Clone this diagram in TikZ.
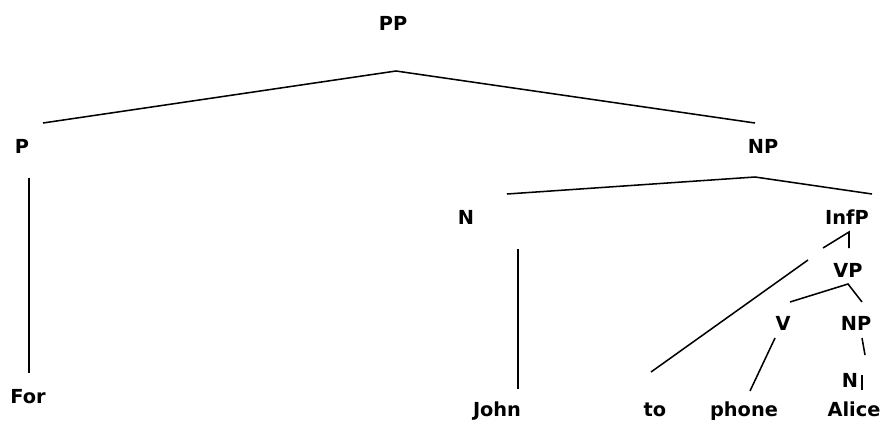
\documentclass[tikz,border=0pt]{standalone}
\usepackage{fontspec}
\setmainfont{DejaVu Sans}
\begin{document}
\begin{tikzpicture}[x=0.75pt,y=-0.75pt,
  lbl/.style={anchor=base,inner sep=0pt,font=\bfseries\fontsize{14.5}{16}\selectfont},
  branch/.style={line width=1.15pt,black}]
\useasboundingbox (0,0) rectangle (881,421);
% labels
\node[lbl] (PP) at (393,30) {PP};
\node[lbl] (P) at (22,153) {P};
\node[lbl] (NPa) at (763,153) {NP};
\node[lbl] (Na) at (466,224) {N};
\node[lbl] (InfP) at (847,224) {InfP};
\node[lbl] (VP) at (848,277) {VP};
\node[lbl] (V) at (783,330) {V};
\node[lbl] (NPb) at (856,330) {NP};
\node[lbl] (Nb) at (850,387) {N};
\node[lbl] (For) at (28,403) {For};
\node[lbl] (John) at (497,416) {John};
\node[lbl] (to) at (655,416) {to};
\node[lbl] (phone) at (744,416) {phone};
\node[lbl] (Alice) at (854,416) {Alice};
% branch end points
\coordinate (ppA) at (396,71);
\coordinate (ppL) at (43,123);
\coordinate (ppR) at (755,123);
\coordinate (pT) at (29,178);
\coordinate (pB) at (29,373);
\coordinate (npA) at (755,177);
\coordinate (npL) at (507,194);
\coordinate (npR) at (872,194);
\coordinate (nT) at (518,249);
\coordinate (nB) at (518,389);
\coordinate (infA) at (849,232);
\coordinate (infL) at (823,248);
\coordinate (infV) at (849,248);
\coordinate (toT) at (808,260);
\coordinate (toB) at (651,372);
\coordinate (vpA) at (848,284);
\coordinate (vpL) at (790,302);
\coordinate (vpR) at (862,302);
\coordinate (vT) at (775,338);
\coordinate (vB) at (750,391);
\coordinate (npbT) at (862,338);
\coordinate (npbB) at (865,355);
\coordinate (nbT) at (862,375);
\coordinate (nbB) at (862,390);
% branches
\draw[branch] (ppL) -- (ppA) -- (ppR);
\draw[branch] (pT) -- (pB);
\draw[branch] (npL) -- (npA) -- (npR);
\draw[branch] (nT) -- (nB);
\draw[branch] (infL) -- (infA) -- (infV);
\draw[branch] (toT) -- (toB);
\draw[branch] (vpL) -- (vpA) -- (vpR);
\draw[branch] (vT) -- (vB);
\draw[branch] (npbT) -- (npbB);
\draw[branch] (nbT) -- (nbB);
\end{tikzpicture}
\end{document}
